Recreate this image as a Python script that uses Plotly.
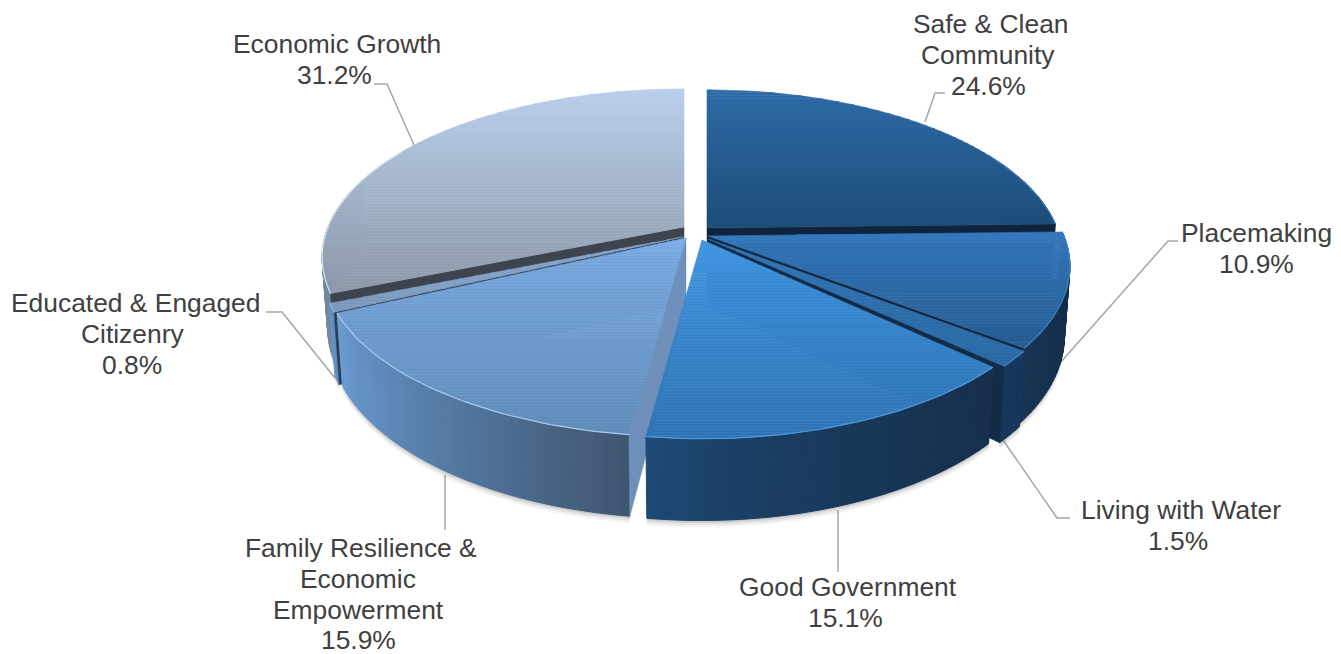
import numpy as np
import plotly.graph_objects as go

categories = ["Safe & Clean<br>Community", "Placemaking", "Living with Water", "Good Government",
              "Family Resilience &<br>Economic<br>Empowerment", "Educated & Engaged<br>Citizenry", "Economic Growth"]
values = [24.6, 10.9, 1.5, 15.1, 15.9, 0.8, 31.2]

# exploded-pie hub of each slice, in the page's pixel frame
hub_x = [707, 708, 708, 702, 686, 683, 684]
hub_y = [228, 236, 239, 240, 238, 237, 227]
rad_x = [350, 356, 356, 350, 356, 356, 356]
# top-surface colours (far edge, near edge)
top_far = ["#2f6ca8", "#3679bd", "#3478b8", "#4297e2", "#7eaee6", "#8aa8cf", "#bad0ec"]
top_near = ["#1e4d78", "#255c91", "#2c6ba6", "#2f73b4", "#5f8bb8", "#7f9cc0", "#8e99a9"]
# outer-wall colours (left, right)
wall_l = ["#1c4468", "#173554", "#16365a", "#1f4b78", "#6b9dd6", "#6a98cd", "#73889f"]
wall_r = ["#1c4468", "#142f4c", "#16365a", "#16304c", "#3f5670", "#5b87bb", "#73889f"]
cut_col = ["#10233d", "#10263f", "#132b47", "#1c3f63", "#6f90ba", "#2e3d52", "#3d4450"]
rim_col = ["#3f7ab4", "#3f80c0", "#3f80c0", "#4c9be0", "#a9c8ee", "#a0b8d8", "#d5e2f2"]
draw_order = [6, 0, 1, 5, 2, 4, 3]

label_x = [991, 1256, 1181, 848, 361, 135, 337]
label_top = [24, 233, 510, 587, 548, 303, 44]
label_nudge = [-3, 0, -3, -3, -3, -3, -3]
leaders = [[(925, 122), (935, 93), (945, 93)], [(1060, 363), (1168, 241), (1178, 241)],
           [(1003, 440), (1057, 518), (1070, 518)], [(838, 510), (838, 572)], [(445, 475), (445, 530)],
           [(335, 378), (282, 312), (266, 312)], [(414, 145), (387, 84), (374, 84)]]

RY, PERSP, DEPTH, SHRINK = 163.0, 0.18, 67.0, 0.985
LINE_STEP = 30.8


def hex2rgb(h):
    return np.array([int(h[i:i + 2], 16) for i in (1, 3, 5)], float)


def mix(c1, c2, t):
    c = hex2rgb(c1) * (1 - t) + hex2rgb(c2) * t
    return "rgb(%d,%d,%d)" % tuple(c)


def top_pt(i, th, r=1.0):
    a, b = r * np.sin(th), r * np.cos(th)
    w = 1 + PERSP * b
    return np.array([hub_x[i] + rad_x[i] * a / w, hub_y[i] - RY * b / w])


def bot_pt(i, th, r=1.0):
    a, b = r * np.sin(th), r * np.cos(th)
    w = 1 + PERSP * b
    return np.array([hub_x[i] + SHRINK * rad_x[i] * a / w, hub_y[i] - RY * b / w + DEPTH / w])


def clip_band(poly, y0, y1):
    def clip(pts, keep, cross):
        out = []
        for j in range(len(pts)):
            p, q = pts[j], pts[(j + 1) % len(pts)]
            if keep(p):
                out.append(p)
            if keep(p) != keep(q):
                t = (cross - p[1]) / (q[1] - p[1])
                out.append(p + (q - p) * t)
        return out
    pts = clip(list(poly), lambda p: p[1] >= y0, y0)
    if pts:
        pts = clip(pts, lambda p: p[1] <= y1, y1)
    return pts


fig = go.Figure()


def fill(pts, color, lw=1.0):
    xs = [p[0] for p in pts] + [pts[0][0]]
    ys = [p[1] for p in pts] + [pts[0][1]]
    fig.add_trace(go.Scatter(x=xs, y=ys, mode="lines", fill="toself", fillcolor=color,
                             line=dict(color=color, width=lw), hoverinfo="skip", showlegend=False))


edges = np.radians(np.concatenate([[0], np.cumsum(values)]) * 3.6)

# soft shadow below the pie
for grow, alpha in [(7, 0.05), (5, 0.07), (3, 0.10), (1.5, 0.12)]:
    for i in draw_order:
        ths = np.linspace(edges[i], edges[i + 1], 40)
        ths = ths[np.cos(ths) < 0.35]
        if len(ths) < 2:
            continue
        lo = [bot_pt(i, t) + np.array([0, grow]) for t in ths]
        hi = [bot_pt(i, t) - np.array([0, 20]) for t in ths[::-1]]
        fill(lo + hi, "rgba(60,60,60,%.2f)" % alpha, 0)

for i in draw_order:
    t1, t2 = edges[i], edges[i + 1]
    # outer wall, shaded left to right
    n = max(3, int((t2 - t1) / np.radians(1.2)))
    ths = np.linspace(t1, t2, n + 1)
    xs_all = [top_pt(i, t)[0] for t in ths]
    xmin, xmax = min(xs_all), max(xs_all)
    for j in range(n):
        tm = (ths[j] + ths[j + 1]) / 2
        if np.cos(tm) > 0.3:
            continue
        f = ((top_pt(i, tm)[0] - xmin) / max(xmax - xmin, 1)) ** 0.7
        fill([top_pt(i, ths[j]), top_pt(i, ths[j + 1]), bot_pt(i, ths[j + 1]), bot_pt(i, ths[j])],
             mix(wall_l[i], wall_r[i], f))
    # cut faces turned towards the viewer
    for th, nrm in [(t1, t1 - np.pi / 2), (t2, t2 + np.pi / 2)]:
        if np.cos(nrm) < -0.01:
            fill([top_pt(i, th, 0), top_pt(i, th), bot_pt(i, th), bot_pt(i, th, 0)], cut_col[i], 0.5)
    # top surface, shaded far to near
    ths = np.linspace(t1, t2, max(6, int((t2 - t1) / np.radians(1.5))))
    poly = [top_pt(i, t1, 0)] + [top_pt(i, t) for t in ths]
    ymin, ymax = min(p[1] for p in poly), max(p[1] for p in poly)
    bands = max(2, int((ymax - ymin) / 3))
    for b in range(bands):
        y0 = ymin + (ymax - ymin) * b / bands
        y1 = ymin + (ymax - ymin) * (b + 1) / bands
        pts = clip_band(poly, y0, y1)
        if len(pts) >= 3:
            fill(pts, mix(top_far[i], top_near[i], (b + 0.5) / bands), 0.6)
    # bevel highlight along the rim
    rim = np.array([top_pt(i, t) for t in ths if np.cos(t) < 0.5])
    if len(rim) > 1:
        fig.add_trace(go.Scatter(x=rim[:, 0], y=rim[:, 1], mode="lines", line=dict(color=rim_col[i], width=1.2),
                                 hoverinfo="skip", showlegend=False))

shapes = []
for path in leaders:
    d = "M " + " L ".join("%g,%g" % p for p in path)
    shapes.append(dict(type="path", path=d, xref="x", yref="y", layer="below",
                       line=dict(color="#a6a6a6", width=1.5)))

annotations = []
for c, v, x, y, dx in zip(categories, values, label_x, label_top, label_nudge):
    for k, line in enumerate(c.split("<br>") + ["%.1f%%" % v]):
        annotations.append(dict(x=x + (dx if k else 0), y=y + k * LINE_STEP, xref="x", yref="y", text=line,
                                showarrow=False, xanchor="center", yanchor="middle",
                                font=dict(family="Liberation Sans, Arial, sans-serif", size=26.4, color="#404040")))

fig.update_layout(width=1341, height=654, margin=dict(l=0, r=0, t=0, b=0), paper_bgcolor="white",
                  plot_bgcolor="white", showlegend=False, shapes=shapes, annotations=annotations,
                  xaxis=dict(range=[0, 1341], visible=False, fixedrange=True),
                  yaxis=dict(range=[654, 0], visible=False, fixedrange=True))
fig.write_html("out.html", config=dict(displayModeBar=False),
               post_script="document.body.style.margin='0';document.body.style.overflow='hidden';")
